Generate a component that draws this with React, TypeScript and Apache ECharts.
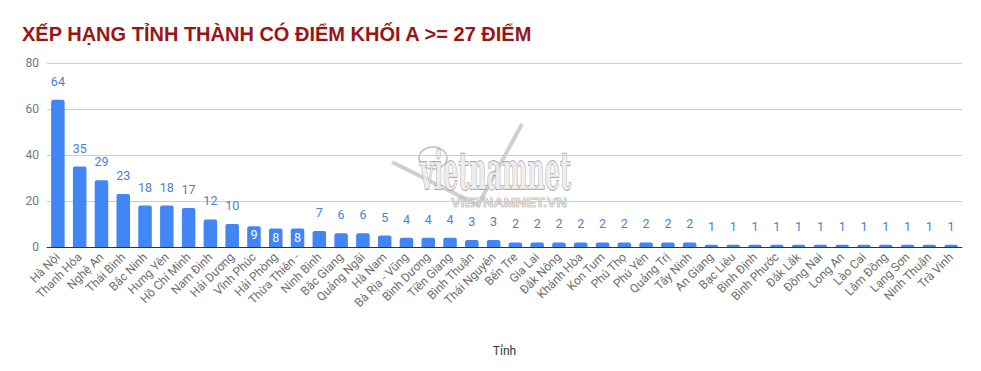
import React, { useEffect, useRef } from "react";
import * as echarts from "echarts";

const categories = [
  "Hà Nội", "Thanh Hóa", "Nghệ An", "Thái Bình", "Bắc Ninh", "Hưng Yên", "Hồ Chí Minh",
  "Nam Định", "Hải Dương", "Vĩnh Phúc", "Hải Phòng", "Thừa Thiên -", "Ninh Bình", "Bắc Giang",
  "Quảng Ngãi", "Hà Nam", "Bà Rịa - Vũng", "Bình Dương", "Tiền Giang", "Bình Thuận", "Thái Nguyên",
  "Bến Tre", "Gia Lai", "Đắk Nông", "Khánh Hòa", "Kon Tum", "Phú Thọ", "Phú Yên", "Quảng Trị",
  "Tây Ninh", "An Giang", "Bạc Liêu", "Bình Định", "Bình Phước", "Đắk Lắk", "Đồng Nai",
  "Long An", "Lào Cai", "Lâm Đồng", "Lạng Sơn", "Ninh Thuận", "Trà Vinh",
];

const values = [
  64, 35, 29, 23, 18, 18, 17, 12, 10, 9, 8, 8, 7, 6, 6, 5, 4, 4, 4, 3, 3,
  2, 2, 2, 2, 2, 2, 2, 2, 2, 1, 1, 1, 1, 1, 1, 1, 1, 1, 1, 1, 1,
];

// categories whose value label sits inside the bar (white)
const insideLabels = ["Vĩnh Phúc", "Hải Phòng", "Thừa Thiên -"];

const yTicks = { min: 0, max: 80, interval: 20 };

export default function App() {
  const ref = useRef<HTMLDivElement>(null);
  useEffect(() => {
    document.body.style.margin = "0";
    if (!ref.current) return;
    const chart = echarts.init(ref.current, null, { renderer: "svg" });
    const data = values.map((v, i) => {
      const inside = insideLabels.includes(categories[i]);
      return inside
        ? { value: v, label: { position: "insideTop", color: "#ffffff", distance: 2 } }
        : { value: v };
    });
    chart.setOption({
      animation: false,
      backgroundColor: "#ffffff",
      title: {
        text: "XẾP HẠNG TỈNH THÀNH CÓ ĐIỂM KHỐI A >= 27 ĐIỂM",
        left: 17,
        top: 19,
        textStyle: {
          fontFamily: "Liberation Sans",
          fontWeight: "bold",
          fontSize: 20,
          color: "#9a1515",
        },
      },
      grid: { left: 47, right: 19, top: 63, bottom: 124 },
      xAxis: {
        type: "category",
        data: categories,
        name: "Tỉnh",
        nameLocation: "middle",
        nameGap: 98,
        nameTextStyle: { fontFamily: "Roboto", fontSize: 12, color: "#333" },
        axisTick: { show: false },
        axisLine: { lineStyle: { color: "#333", width: 1 } },
        axisLabel: {
          interval: 0,
          rotate: 45,
          margin: 8,
          fontFamily: "Roboto",
          fontSize: 12,
          color: "#6e6e6e",
        },
      },
      yAxis: {
        type: "value",
        min: yTicks.min,
        max: yTicks.max,
        interval: yTicks.interval,
        axisLine: { show: false },
        axisTick: { show: false },
        axisLabel: { fontFamily: "Roboto", fontSize: 12, color: "#757575", margin: 8 },
        splitLine: { lineStyle: { color: "#cccccc" } },
      },
      graphic: [
        {
          type: "group",
          silent: true,
          z: 100,
          children: [
            {
              type: "polyline",
              shape: { points: [[392, 162], [478, 205], [522, 124]] },
              style: { stroke: "#c4c4c4", lineWidth: 4, fill: null, opacity: 0.8 },
            },
            {
              type: "ellipse",
              shape: { cx: 433, cy: 158, rx: 14, ry: 11 },
              style: { stroke: "#bdbdbd", lineWidth: 2, fill: null, opacity: 0.8 },
            },
            {
              type: "text",
              x: 420,
              y: 197,
              scaleX: 0.46,
              scaleY: 1,
              style: {
                text: "vietnamnet",
                font: "bold 52px 'DejaVu Serif', 'Liberation Serif'",
                fill: "#ececec",
                stroke: "#8a8a8a",
                lineWidth: 1.4,
                textVerticalAlign: "bottom",
                opacity: 0.85,
              },
            },
            {
              type: "text",
              x: 451,
              y: 197,
              scaleX: 1.2,
              style: {
                text: "VIETNAMNET.VN",
                font: "bold 12px 'Liberation Sans'",
                fill: "#e0e0e0",
                stroke: "#888",
                lineWidth: 0.6,
                opacity: 0.9,
              },
            },
          ],
        },
      ],
      series: [
        {
          type: "bar",
          data,
          barCategoryGap: "38%",
          itemStyle: { color: "#4285f4", borderRadius: [2, 2, 0, 0] },
          label: {
            show: true,
            position: "top",
            distance: 12,
            fontFamily: "Roboto",
            fontSize: 12.5,
            color: "#4a80d8",
          },
        },
      ],
    });
    return () => chart.dispose();
  }, []);
  return <div ref={ref} style={{ width: 981, height: 371 }} />;
}
